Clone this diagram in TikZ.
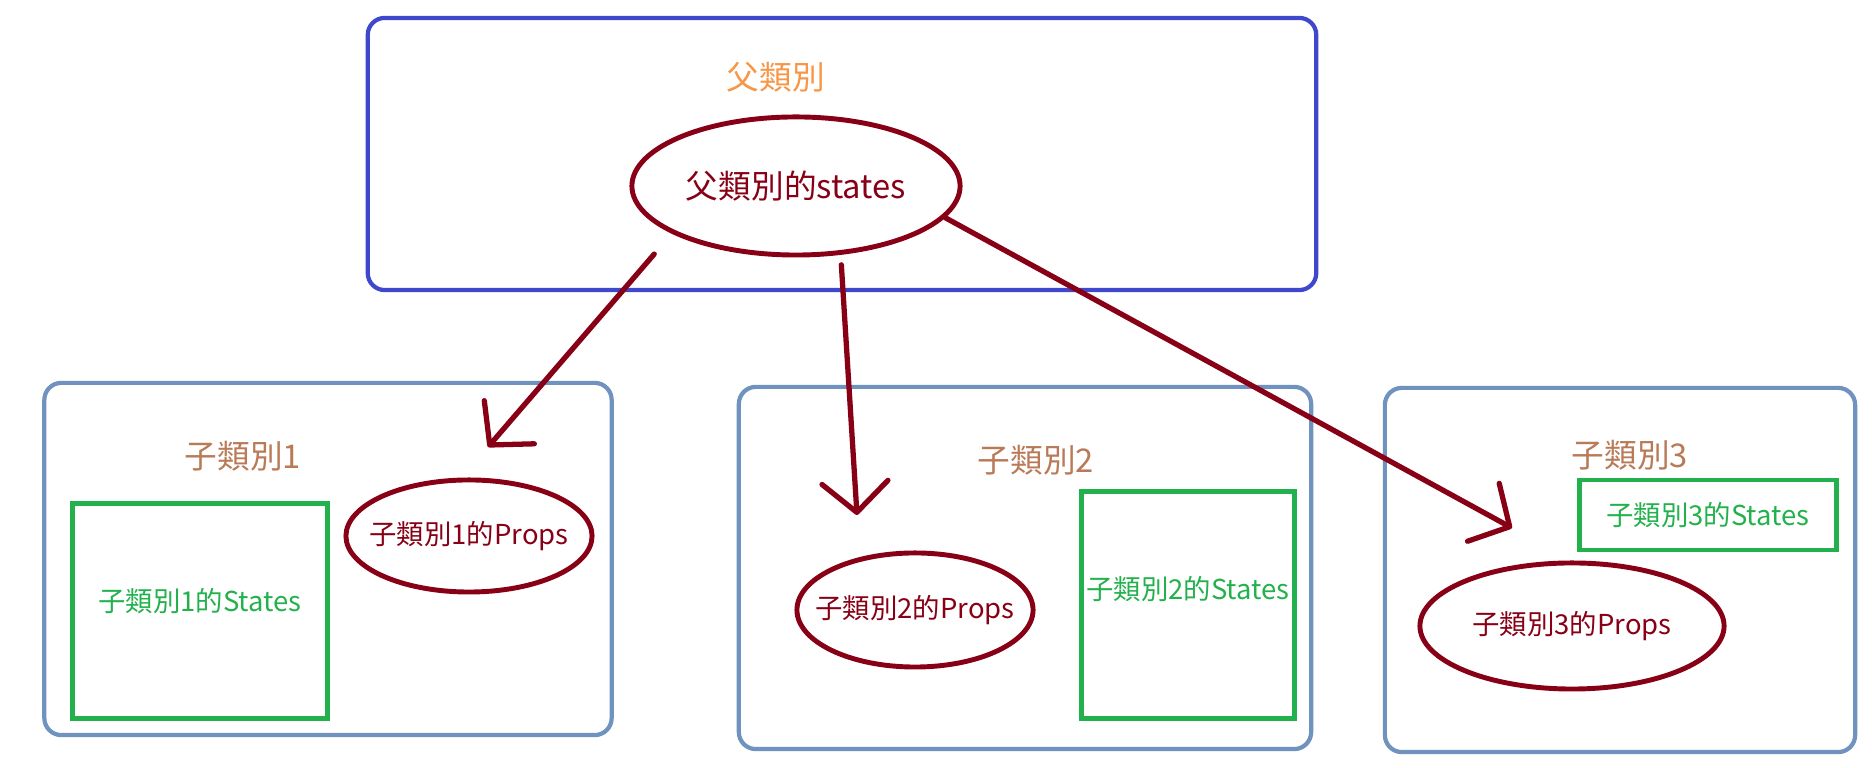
\documentclass[tikz,border=0pt]{standalone}
\usepackage{fontspec}
\setmainfont{Noto Sans CJK TC}
\usetikzlibrary{shapes.geometric, arrows.meta}

\definecolor{fuBlue}{RGB}{63,72,204}
\definecolor{ziBlue}{RGB}{112,146,190}
\definecolor{stGreen}{RGB}{34,177,76}
\definecolor{propRed}{RGB}{136,0,21}
\definecolor{fuOrange}{RGB}{247,150,70}
\definecolor{ziBrown}{RGB}{185,122,87}

\begin{document}
\begin{tikzpicture}[x=0.01cm, y=-0.01cm, >={Straight Barb[length=0.3cm, width=0.66cm, round]},
	frame/.style={draw, rounded corners=0.17cm, line width=1.2pt, inner sep=0pt},
	props/.style={draw=propRed, ellipse, line width=1.4pt, inner ysep=0pt, inner xsep=-0.3cm, text=propRed, font=\fontsize{7.8}{9}\selectfont},
	statebox/.style={draw=stGreen, line width=1.2pt, inner sep=0pt, text=stGreen, font=\fontsize{7.8}{9}\selectfont},
	title/.style={text=ziBrown, font=\fontsize{9.3}{11}\selectfont},
	arr/.style={->, propRed, line width=1.5pt, line cap=round}]
	\useasboundingbox (0,0) rectangle (1872,768);
	
	% 1. 父類別
	\node[frame, draw=fuBlue, minimum width=9.48cm, minimum height=2.72cm] (fu) at (842,154) {};
	\node[title, text=fuOrange] (futitle) at (776,77) {父類別};
	\node[props, minimum width=3.28cm, minimum height=1.38cm, font=\fontsize{9.3}{11}\selectfont] (fust) at (796,186) {父類別的states};
	
	% 2. 子類別1
	\node[frame, draw=ziBlue, minimum width=5.67cm, minimum height=3.52cm] (zi1) at (328,559) {};
	\node[title] (zi1title) at (243,456) {子類別1};
	\node[statebox, minimum width=2.55cm, minimum height=2.15cm, text depth=0.22cm] (st1) at (200,611) {子類別1的States};
	\node[props, minimum width=2.46cm, minimum height=1.12cm] (pr1) at (469,536) {子類別1的Props};
	
	% 3. 子類別2
	\node[frame, draw=ziBlue, minimum width=5.72cm, minimum height=3.62cm] (zi2) at (1025,568) {};
	\node[title] (zi2title) at (1036,460) {子類別2};
	\node[statebox, minimum width=2.13cm, minimum height=2.27cm, text depth=0.34cm] (st2) at (1188,605) {子類別2的States};
	\node[props, minimum width=2.36cm, minimum height=1.14cm] (pr2) at (915,610) {子類別2的Props};
	
	% 4. 子類別3
	\node[frame, draw=ziBlue, minimum width=4.70cm, minimum height=3.64cm] (zi3) at (1620,570) {};
	\node[title] (zi3title) at (1630,455) {子類別3};
	\node[statebox, minimum width=2.57cm, minimum height=0.70cm] (st3) at (1708,515) {子類別3的States};
	\node[props, minimum width=3.04cm, minimum height=1.26cm] (pr3) at (1572,626) {子類別3的Props};
	
	% 5. 箭頭
	\coordinate (tip1) at (488,447);
	\coordinate (tip2) at (857,515);
	\coordinate (tip3) at (1512,528);
	\draw[arr, shorten <=0.27cm] (fust.201) -- (tip1);
	\draw[arr, shorten <=0.1cm] (fust.303) -- (tip2);
	\draw[arr] (fust.348) -- (tip3);
\end{tikzpicture}
\end{document}
